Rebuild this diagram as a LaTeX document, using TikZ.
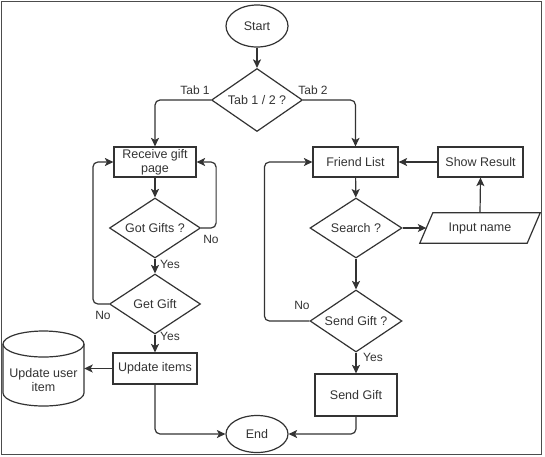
\documentclass[tikz,border=0pt]{standalone}
\usepackage{fontspec}
\setmainfont{Liberation Sans}
\usetikzlibrary{shapes.geometric,arrows.meta,calc}
\begin{document}
\begin{tikzpicture}[x=1pt,y=-1pt,
  every node/.style={font=\fontsize{12.5}{14}\selectfont, text=black!80},
  ln/.style={line width=1.2pt, draw=black!80},
  arr/.style={ln, -{Stealth[length=8.5pt,width=8pt,inset=2pt]}, rounded corners=5pt},
  proc/.style={draw=black!80, line width=1.2pt, rectangle, inner sep=0pt, align=center},
  dec/.style={draw=black!80, line width=1.2pt, diamond, aspect=1.5, inner sep=0pt},
  term/.style={draw=black!80, line width=1.2pt, ellipse, inner sep=0pt},
  lab/.style={font=\fontsize{12}{13}\selectfont, inner sep=0pt},
  border/.style={line width=1.6pt, draw=black!70}
]
\useasboundingbox (0,0) rectangle (545,456);
\draw[border] (1.5,1.5) rectangle (541.5,454.5);

% nodes
\node[term, minimum width=62pt, minimum height=42pt] (start) at (257,26) {Start};
\node[dec, minimum width=91pt, minimum height=63pt] (tab) at (257,100) {Tab 1 / 2 ?};
\node[proc, minimum width=82pt, minimum height=30pt] (rec) at (155,162) {Receive gift\\page};
\node[dec, minimum width=91pt, minimum height=60pt] (got) at (155,228) {Got Gifts ?};
\node[dec, minimum width=91pt, minimum height=60pt] (get) at (155,304) {Get Gift};
\node[proc, minimum width=84pt, minimum height=31pt] (upd) at (155,368.5) {Update items};
\node[align=center, minimum width=81pt, inner sep=0pt] (db) at (43.5,380) {Update user\\item};
\node[proc, minimum width=85pt, minimum height=30pt] (fl) at (355.5,162) {Friend List};
\node[proc, minimum width=85pt, minimum height=30pt] (res) at (480.5,162) {Show Result};
\node[dec, minimum width=92pt, minimum height=60pt] (srch) at (356,228) {Search ?};
\node[minimum width=107pt, minimum height=30pt, inner sep=0pt] (inp) at (480,228) {Input name};
\node[dec, minimum width=92pt, minimum height=62pt] (sendq) at (356,321) {Send Gift ?};
\node[proc, minimum width=82pt, minimum height=42pt] (sendb) at (356,395) {Send Gift};
\node[term, minimum width=62pt, minimum height=37pt] (end) at (257,434) {End};

% parallelogram for input
\draw[ln] ($(inp.north west)+(6.5,0)$) -- ($(inp.north east)+(6.5,0)$) -- ($(inp.south east)+(-6.5,0)$) -- ($(inp.south west)+(-6.5,0)$) -- cycle;

% cylinder for database
\coordinate (cyt) at (43.5,344);
\coordinate (cyb) at (43.5,393);
\draw[ln] (cyt) ellipse [x radius=40.5pt, y radius=13pt];
\draw[ln] ($(cyt)+(-40.5,0)$) -- ($(cyb)+(-40.5,0)$) arc[start angle=180, end angle=360, x radius=40.5pt, y radius=13pt] -- ($(cyt)+(40.5,0)$);

% connectors
\draw[arr] (start) -- (tab);
\draw[arr] (tab.west) -| (rec.north);
\draw[arr] (tab.east) -| (fl.north);
\draw[arr] (rec) -- (got);
\draw[arr] (got) -- (get);
\draw[arr] (got.east) -- ++(15,0) |- (rec.east);
\draw[arr] (get.west) -- ++(-16,0) |- (rec.west);
\draw[arr] (get) -- (upd);
\draw[arr] (upd.west) -- (upd.west -| db.east);
\draw[arr] (upd.south) |- (end.west);
\draw[arr] (fl) -- (srch);
\draw[arr] (srch.east) -- (inp.west);
\draw[arr] (inp.north) -- (res.south);
\draw[arr] (res.west) -- (fl.east);
\draw[arr] (srch) -- (sendq);
\draw[arr] (sendq.west) -- ++(-45,0) |- (fl.west);
\draw[arr] (sendq) -- (sendb);
\draw[arr] (sendb.south) |- (end.east);

% labels
\node[lab] at (195,90) {Tab 1};
\node[lab] at (313,90) {Tab 2};
\node[lab] at (211,239) {No};
\node[lab] at (170,264) {Yes};
\node[lab] at (103,315) {No};
\node[lab] at (170,336) {Yes};
\node[lab] at (302,305) {No};
\node[lab] at (373,357) {Yes};
\end{tikzpicture}
\end{document}
